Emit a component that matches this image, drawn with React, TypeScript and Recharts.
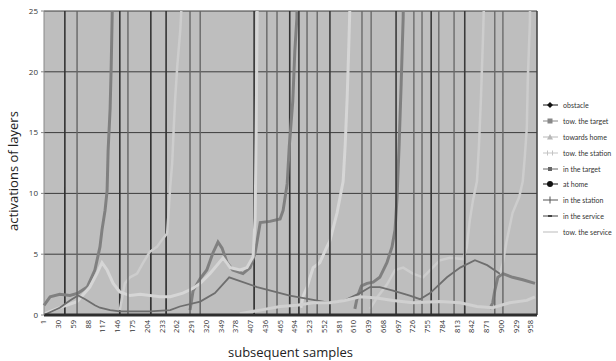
import React from "react";
import { LineChart, Line, XAxis, YAxis, CartesianGrid, ReferenceLine } from "recharts";

type Pt = [number, number | null];

const xTicks = [1, 30, 59, 88, 117, 146, 175, 204, 233, 262, 291, 320, 349, 378, 407, 436, 465, 494, 523, 552, 581, 610, 639, 668, 697, 726, 755, 784, 813, 842, 871, 900, 929, 958];
const yTicks = [0, 5, 10, 15, 20, 25];
const lastSample = 970;
const spikeTop = 60;

// binary layers: sample numbers where they fire
const obstacleSpikes = [42, 150, 211, 241, 414, 484];
const atHomeSpikes = [502, 563, 693, 762, 828];
const inTargetSpikes = [66, 166, 288, 308, 439, 459, 518, 538];
const inStationSpikes = [626, 644, 728, 744, 777, 807, 887, 903];

// [sample, activation]; null = off the chart / reset
const towTarget: Pt[] = [
  [1, 0.8], [13, 1.5], [32, 1.7], [52, 1.6], [68, 1.8], [86, 2.3], [101, 3.7], [111, 5.6], [115, 7.0], [121, 8.6],
  [125, 10.2], [127, 13.5], [131, 17], [133, 20.3], [135, 24.6], [137, 32], [138, null],
  [288, 0.4], [294, 2.0], [308, 3.0], [321, 3.7], [333, 5.1], [343, 6.0], [351, 5.5], [361, 4.3], [372, 3.7],
  [392, 3.4], [406, 3.9], [416, 5.1], [426, 7.6], [445, 7.7], [465, 7.9], [471, 8.6], [479, 10.8], [483, 13.8],
  [490, 17.6], [494, 21.7], [498, 24.4], [500, 32], [501, null],
  [612, 0.5], [617, 1.5], [625, 2.4], [636, 2.6], [648, 2.7], [661, 3.1], [675, 4.3], [685, 5.6], [691, 7.0],
  [695, 9.7], [699, 14], [703, 19], [707, 24.5], [709, 32], [710, null],
  [877, 0.5], [883, 1.0], [887, 2.0], [893, 3.1], [903, 3.4], [922, 3.1], [942, 2.9], [966, 2.6],
];

const towardsHome: Pt[] = [
  [150, 0.4], [160, 2.6], [170, 3.1], [184, 3.4], [196, 4.3], [209, 5.2], [223, 5.6], [235, 6.3], [243, 6.7],
  [246, 8.5], [249, 10.5], [253, 12.5], [256, 15.4], [259, 17.9], [263, 20.5], [266, 22], [269, 23.5], [272, 26], [273, null],
  [642, 0.5], [655, 1.4], [675, 2.5], [691, 3.7], [707, 3.9], [726, 3.4], [746, 3.1], [760, 3.7], [779, 4.5],
  [799, 4.7], [825, 4.6], [832, 5.6], [838, 7.8], [844, 9.4], [852, 11], [856, 14], [860, 18], [864, 23], [866, 26], [867, null],
  [897, 3.4], [903, 4.3], [910, 6.0], [922, 8.4], [935, 9.7], [942, 11], [946, 13], [950, 15.4], [952, 19.5], [956, 24],
  [958, 32], [959, null],
];

const towStation: Pt[] = [
  [1, 0.1], [32, 0.6], [66, 1.1], [91, 2.3], [105, 3.4], [115, 4.3], [125, 3.7], [137, 2.6], [150, 1.9], [170, 1.6],
  [190, 1.7], [209, 1.6], [229, 1.5], [249, 1.5], [274, 1.8], [294, 2.2], [308, 2.6], [327, 3.4], [343, 4.2], [353, 4.7],
  [367, 3.9], [386, 3.7], [400, 3.9], [412, 4.8], [416, 8], [418, 15], [420, 25], [421, 32], [422, null],
  [506, 0.6], [510, 1.5], [518, 2.3], [530, 3.9], [543, 4.3], [557, 5.6], [563, 6.1], [577, 8.4], [583, 9.7], [589, 11],
  [593, 14], [597, 18], [600, 22], [602, 25], [604, 32], [605, null],
];

const inService: Pt[] = [
  [1, 0], [32, 0.6], [52, 1.2], [68, 1.6], [82, 1.3], [101, 0.8], [111, 0.6], [131, 0.4], [150, 0.3], [209, 0.3],
  [249, 0.4], [268, 0.7], [308, 1.1], [337, 1.8], [365, 3.1], [420, 2.3], [484, 1.6], [563, 1.0], [592, 1.2], [622, 1.8],
  [642, 2.3], [661, 2.3], [687, 2.0], [720, 1.6], [740, 1.3], [760, 1.8], [793, 3.1], [819, 3.9], [848, 4.5], [872, 4.1],
  [897, 3.4],
];

const towService: Pt[] = [
  [386, 0.1], [426, 0.4], [465, 0.7], [498, 0.8], [530, 1.0], [563, 1.0], [592, 1.2], [622, 1.5], [655, 1.4], [687, 1.2],
  [726, 1.0], [779, 1.1], [819, 1.0], [852, 0.7], [883, 0.6], [916, 1.0], [950, 1.2], [966, 1.5],
];

const toRows = (pts: Pt[]) => pts.map(([s, v]) => ({ s, v }));
const spikeRows = (spikes: number[]) => {
  const rows: { s: number; v: number }[] = [{ s: 1, v: 0 }];
  spikes.forEach((s) => rows.push({ s: s - 0.3, v: 0 }, { s, v: spikeTop }, { s: s + 0.3, v: 0 }));
  rows.push({ s: lastSample, v: 0 });
  return rows;
};

const series = [
  { name: "obstacle", color: "#333333", key: "#111", width: 1.4, mark: "diamond", rows: spikeRows(obstacleSpikes) },
  { name: "tow. the target", color: "#808080", key: "#888", width: 3, mark: "square", rows: toRows(towTarget) },
  { name: "towards home", color: "#cdcdcd", key: "#b8b8b8", width: 2.5, mark: "triangle", rows: toRows(towardsHome) },
  { name: "tow. the station", color: "#d6d6d6", key: "#c4c4c4", width: 3, mark: "h", rows: toRows(towStation) },
  { name: "in the target", color: "#666666", key: "#666", width: 1.2, mark: "star", rows: spikeRows(inTargetSpikes) },
  { name: "at home", color: "#3a3a3a", key: "#111", width: 1.4, mark: "circle", rows: spikeRows(atHomeSpikes) },
  { name: "in the station", color: "#6a6a6a", key: "#555", width: 1.2, mark: "plus", rows: spikeRows(inStationSpikes) },
  { name: "in the service", color: "#6e6e6e", key: "#444", width: 1.8, mark: "dash", rows: toRows(inService) },
  { name: "tow. the service", color: "#d0d0d0", key: "#bbb", width: 3, mark: "none", rows: toRows(towService) },
];

const font = "'Open Sans', 'DejaVu Sans', sans-serif";

function XTick({ x, y, payload }: any) {
  return (
    <text x={x} y={y} transform={`rotate(-90, ${x}, ${y})`} textAnchor="end" dy="0.33em" fontSize={7.5} fill="#333" fontFamily={font}>
      {payload.value}
    </text>
  );
}

function Marker({ mark, color }: { mark: string; color: string }) {
  const c = 8;
  switch (mark) {
    case "diamond":
      return <path d={`M${c} 2 L${c + 3} 5 L${c} 8 L${c - 3} 5 Z`} fill={color} />;
    case "square":
      return <rect x={c - 2.5} y={2.5} width={5} height={5} fill={color} />;
    case "triangle":
      return <path d={`M${c} 2 L${c + 3} 7.5 L${c - 3} 7.5 Z`} fill={color} />;
    case "h":
      return <path d={`M${c - 2.5} 2.5 V7.5 M${c + 2.5} 2.5 V7.5`} stroke={color} strokeWidth={1} />;
    case "star":
      return <rect x={c - 2} y={3} width={4} height={4} fill={color} />;
    case "circle":
      return <circle cx={c} cy={5} r={3} fill={color} />;
    case "plus":
      return <path d={`M${c} 1.5 V8.5`} stroke={color} strokeWidth={1} />;
    case "dash":
      return <rect x={c - 2} y={4} width={4} height={2} fill={color} />;
    default:
      return null;
  }
}

function SideLegend() {
  return (
    <div style={{ position: "absolute", left: 542, top: 97, fontFamily: "Lato, 'Open Sans', sans-serif", fontSize: 7, color: "#333", whiteSpace: "nowrap" }}>
      {series.map((s) => (
        <div key={s.name} style={{ height: 15.9, display: "flex", alignItems: "center" }}>
          <svg width={17} height={10} style={{ marginRight: 4 }}>
            <line x1={1} x2={16} y1={5} y2={5} stroke={s.key} strokeWidth={1} />
            <Marker mark={s.mark} color={s.key} />
          </svg>
          <span>{s.name}</span>
        </div>
      ))}
    </div>
  );
}

export default function App() {
  return (
    <div style={{ position: "relative", width: 616, height: 361, overflow: "hidden", background: "#fff" }}>
      <style>{`body{margin:0}`}</style>
      <LineChart width={616} height={361} margin={{ top: 11, right: 79, bottom: 0, left: 0 }}>
        <CartesianGrid vertical={false} fill="#bebebe" fillOpacity={1} stroke="#3c3c3c" strokeWidth={1} />
        <XAxis
          type="number"
          dataKey="s"
          domain={[1, lastSample]}
          ticks={xTicks}
          interval={0}
          height={46}
          tickSize={3}
          tickMargin={2}
          tickLine={false}
          tick={<XTick />}
          axisLine={{ stroke: "#2e2e2e", strokeWidth: 3 }}
          allowDuplicatedCategory={false}
        />
        <YAxis
          type="number"
          domain={[0, 25]}
          ticks={yTicks}
          allowDataOverflow
          width={44}
          tickSize={3}
          tickMargin={3}
          tick={{ fontSize: 8, fill: "#333", fontFamily: font }}
          axisLine={{ stroke: "#888" }}
          tickLine={{ stroke: "#888" }}
        />
        <ReferenceLine x={lastSample} stroke="#3c3c3c" strokeWidth={1.5} />
        {series.map((s) => (
          <Line
            key={s.name}
            name={s.name}
            data={s.rows}
            dataKey="v"
            type="linear"
            stroke={s.color}
            strokeWidth={s.width}
            dot={false}
            activeDot={false}
            isAnimationActive={false}
          />
        ))}
      </LineChart>
      <div
        style={{
          position: "absolute", left: 13, top: 171, transform: "translate(-50%, -50%) rotate(-90deg)",
          fontFamily: font, fontSize: 13, color: "#222", whiteSpace: "nowrap",
        }}
      >
        activations of layers
      </div>
      <div style={{ position: "absolute", left: 44, width: 493, top: 343, textAlign: "center", fontFamily: font, fontSize: 13, color: "#222" }}>
        subsequent samples
      </div>
      <SideLegend />
    </div>
  );
}
